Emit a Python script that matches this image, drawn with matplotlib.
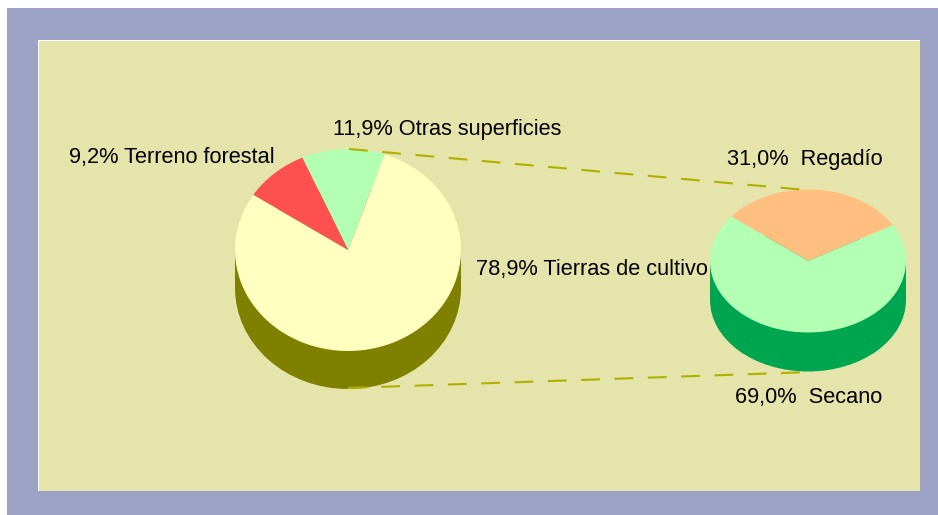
import numpy as np
import matplotlib.pyplot as plt
from matplotlib.patches import Rectangle, Polygon, Ellipse

# Datos: distribución de la superficie
main_labels = ["Otras superficies", "Terreno forestal", "Tierras de cultivo"]
main_values = [11.9, 9.2, 78.9]
main_colors = ["#B3FFB3", "#FF5050", "#FFFFC0"]

sub_labels = ["Regadío", "Secano"]
sub_values = [31.0, 69.0]
sub_colors = ["#FFBF80", "#B3FFB3"]


def fmt(v):
    return f"{v:.1f}".replace(".", ",") + "%"


def pie3d(ax, values, colors, cx, cy, rx, ry, depth, side_color, start):
    # lateral
    ax.add_patch(Ellipse((cx, cy + depth), 2 * rx, 2 * ry, color=side_color, lw=0))
    ax.add_patch(Rectangle((cx - rx, cy), 2 * rx, depth, color=side_color, lw=0))
    # cara superior
    total = sum(values)
    a0 = start
    for v, c in zip(values, colors):
        a1 = a0 + 360 * v / total
        t = np.radians(np.linspace(a0, a1, 100))
        pts = np.column_stack([cx + rx * np.cos(t), cy - ry * np.sin(t)])
        pts = np.vstack([[cx, cy], pts])
        ax.add_patch(Polygon(pts, closed=True, color=c, lw=0))
        a0 = a1


fig = plt.figure(figsize=(9.38, 5.15), dpi=100)
ax = fig.add_axes([0, 0, 1, 1])
ax.set_xlim(0, 938)
ax.set_ylim(515, 0)
ax.axis("off")

# marco
ax.add_patch(Rectangle((7, 8), 931, 507, color="#9DA2C5", lw=0))
ax.add_patch(Rectangle((38, 40), 882, 451, color="white", lw=0))
ax.add_patch(Rectangle((39, 41), 881, 450, color="#E5E4AA", lw=0))

# tarta principal
pie3d(ax, main_values, main_colors, 348, 250, 113, 101, 38, "#808000", 71)
# tarta de detalle
pie3d(ax, sub_values, sub_colors, 808, 261, 98, 71.5, 39, "#00A550", 30)

# líneas de unión
ax.plot([349, 806], [149, 190], color="#B0B000", lw=1.5, dashes=(9, 7))
ax.plot([348, 812], [388, 372], color="#B0B000", lw=1.5, dashes=(9, 7))

fs = 15.7
font = "Liberation Sans"
ax.text(333, 130, f"{fmt(main_values[0])} {main_labels[0]}", fontsize=fs, family=font, va="center")
ax.text(69, 157, f"{fmt(main_values[1])} {main_labels[1]}", fontsize=fs, family=font, va="center")
ax.text(476, 270, f"{fmt(main_values[2])} {main_labels[2]}", fontsize=fs, family=font, va="center")
ax.text(727, 160, f"{fmt(sub_values[0])}  {sub_labels[0]}", fontsize=fs, family=font, va="center")
ax.text(735, 398, f"{fmt(sub_values[1])}  {sub_labels[1]}", fontsize=fs, family=font, va="center")

fig.savefig("out.png", dpi=100)
